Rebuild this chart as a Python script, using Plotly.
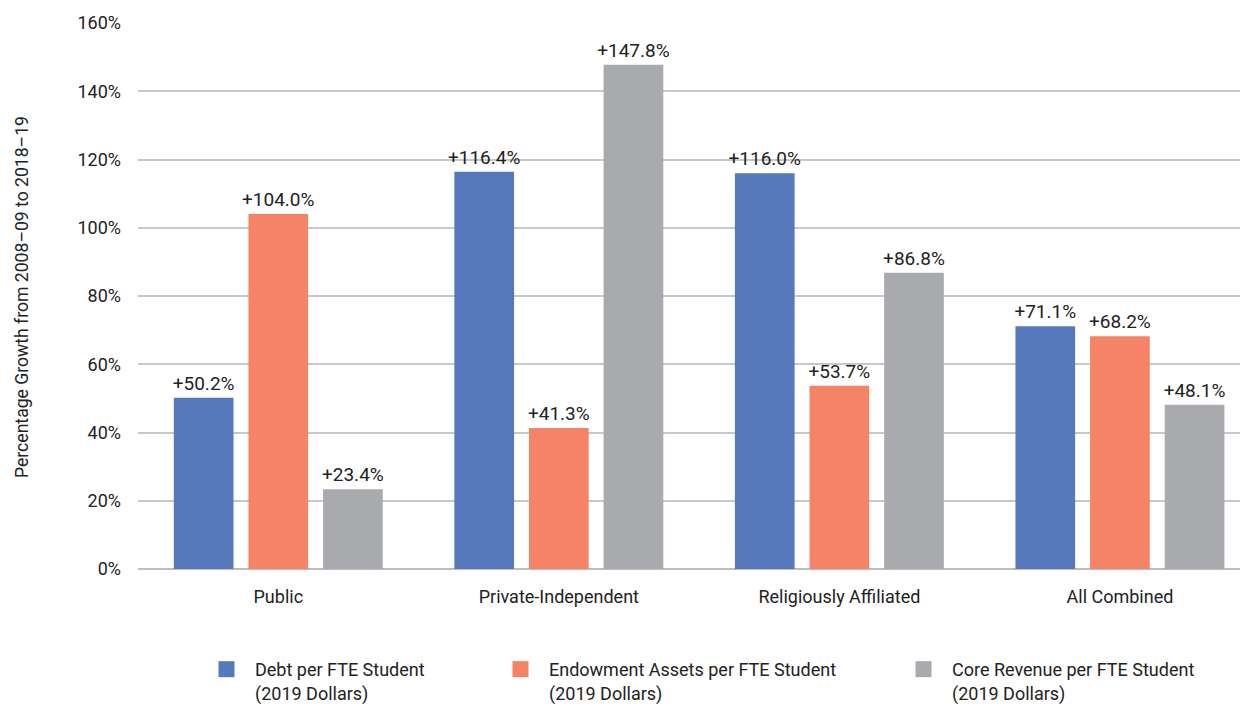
import plotly.graph_objects as go

categories = ["Public", "Private-Independent", "Religiously Affiliated", "All Combined"]
debt = [50.2, 116.4, 116.0, 71.1]
endowment = [104.0, 41.3, 53.7, 68.2]
core_revenue = [23.4, 147.8, 86.8, 48.1]
series_names = [
    "Debt per FTE Student<br>(2019 Dollars)",
    "Endowment Assets per FTE Student<br>(2019 Dollars)",
    "Core Revenue per FTE Student<br>(2019 Dollars)",
]
colors = ["#5878BC", "#F58366", "#A9AAAD"]
y_ticks = [0, 20, 40, 60, 80, 100, 120, 140, 160]
y_tick_labels = [f"{v}%" for v in y_ticks]
y_title = "Percentage Growth from 2008–09 to 2018–19"

FONT = "Roboto, Liberation Sans, sans-serif"
TXT = "#222222"
OFF = 8  # page body margin offset

fig = go.Figure()
legends = ["legend", "legend2", "legend3"]
for vals, name, col in zip([debt, endowment, core_revenue], series_names, colors):
    fig.add_trace(go.Bar(
        x=categories, y=vals, name=name, marker_color=col, marker_line_width=0,
        text=[f"+{v:.1f}%" for v in vals], textposition="outside",
        textfont=dict(family=FONT, size=19, color=TXT), constraintext="none",
        cliponaxis=False, showlegend=False,
    ))
for name, col, lg in zip(series_names, colors, legends):
    fig.add_trace(go.Scatter(
        x=[None], y=[None], mode="markers", name=name, legend=lg,
        marker=dict(symbol="square", size=16, color=col), showlegend=True,
    ))

W, H = 1248, 707
ML, MT = 138 - OFF, 23 - OFF
MB = H - MT - 546
MR = 0
legend_text_x = [255, 549, 952]
IW = 47
leg_common = dict(
    orientation="h", xref="container", yref="container", xanchor="left", yanchor="top",
    font=dict(family=FONT, size=18, color=TXT), bgcolor="rgba(0,0,0,0)",
    valign="top", itemwidth=IW, tracegroupgap=0,
)
layout_legends = {}
for lg, tx in zip(legends, legend_text_x):
    layout_legends[lg] = dict(leg_common, x=(tx - OFF - (IW + 10)) / W, y=1 - (651 - OFF) / H)

fig.update_layout(
    width=W, height=H,
    margin=dict(l=ML, r=MR, t=MT, b=MB, autoexpand=False),
    paper_bgcolor="white", plot_bgcolor="white",
    barmode="group", bargap=0.202, bargroupgap=0.2,
    font=dict(family=FONT, size=18, color=TXT),
    showlegend=True,
    xaxis=dict(
        range=[-0.5, 3.485], showgrid=False, showline=False, ticks="", automargin=False,
        tickfont=dict(family=FONT, size=18, color=TXT), ticklabelstandoff=15,
    ),
    yaxis=dict(
        range=[0, 160], tickvals=y_ticks, ticktext=y_tick_labels, automargin=False,
        showgrid=True, gridcolor="#C8C8C8", gridwidth=1.5,
        zeroline=True, zerolinecolor="#BDBDBD", zerolinewidth=2,
        showline=False, ticks="", ticklabelstandoff=16,
        tickfont=dict(family=FONT, size=18, color=TXT),
    ),
    annotations=[dict(
        text=y_title, textangle=-90, xref="paper", yref="paper",
        x=(22 - OFF - ML) / (W - ML - MR), y=(569 - 297) / 546, xanchor="center", yanchor="middle",
        showarrow=False, font=dict(family=FONT, size=17.6, color=TXT),
    )],
    **layout_legends,
)

fig.write_html("out.html")
